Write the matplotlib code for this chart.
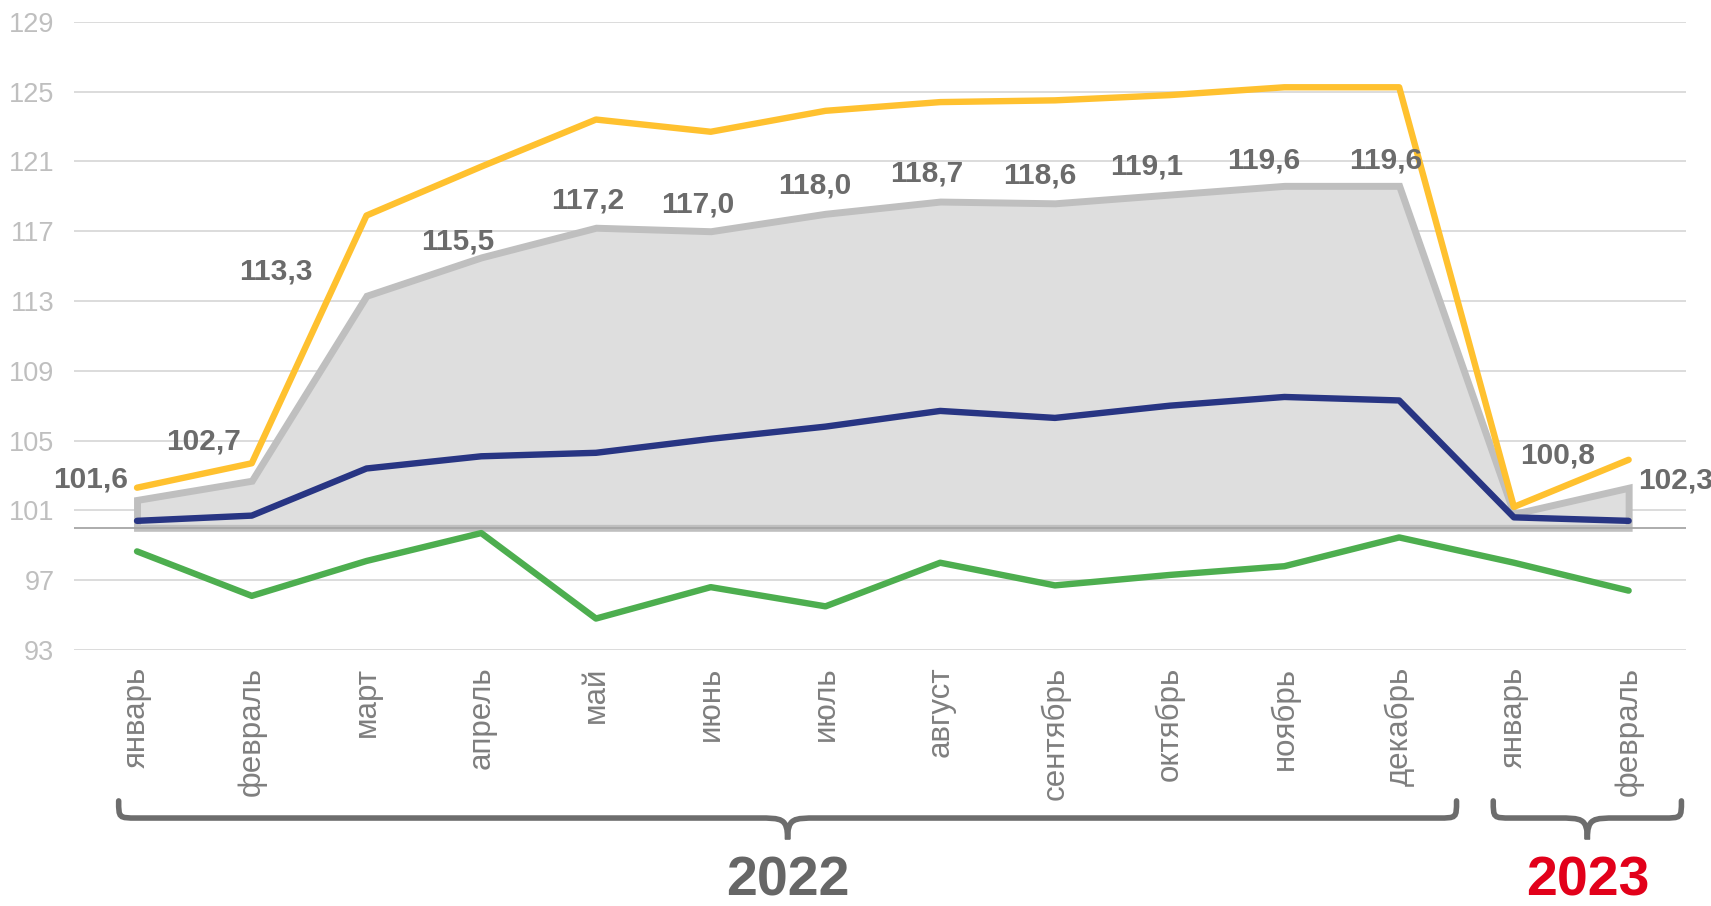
import matplotlib.pyplot as plt
import matplotlib.transforms as mtransforms
from matplotlib.path import Path
from matplotlib.patches import PathPatch

plt.rcParams['font.family'] = ['Liberation Sans', 'DejaVu Sans']

# данные
months = ["январь", "февраль", "март", "апрель", "май", "июнь", "июль", "август",
          "сентябрь", "октябрь", "ноябрь", "декабрь", "январь", "февраль"]
gray_vals = [101.6, 102.7, 113.3, 115.5, 117.2, 117.0, 118.0, 118.7, 118.6, 119.1, 119.6, 119.6, 100.8, 102.3]
yellow_vals = [102.3, 103.7, 117.9, 120.7, 123.4, 122.7, 123.9, 124.4, 124.5, 124.8, 125.25, 125.25, 101.2, 103.9]
navy_vals = [100.4, 100.7, 103.4, 104.1, 104.3, 105.1, 105.8, 106.7, 106.3, 107.0, 107.5, 107.3, 100.6, 100.4]
green_vals = [98.65, 96.1, 98.1, 99.7, 94.8, 96.6, 95.5, 98.0, 96.7, 97.3, 97.8, 99.45, 98.0, 96.4]
years = ["2022", "2023"]
year_groups = [(0, 11), (12, 13)]
base = 100
yticks = list(range(93, 130, 4))

# смещения подписей (пиксели)
label_offsets = [(-46, 20), (-48, 39), (-91, 24), (-23, 16), (-8, 27), (-13, 27), (-11, 28),
                 (-13, 28), (-15, 28), (-23, 28), (-21, 25), (-13, 25), (44, 58), (47, 7)]

x = list(range(len(months)))

fig = plt.figure(figsize=(17.11, 9.06), dpi=100)
ax = fig.add_axes([0.0432, 0.2826, 0.9422, 0.6933])

ax.fill_between(x, base, gray_vals, facecolor='#DEDEDE', edgecolor='#BFBFBF', linewidth=5,
                joinstyle='miter', zorder=2)
ax.axhline(base, color='#A6A6A6', lw=1.3, zorder=2.5)
ax.plot(x, navy_vals, color='#283583', lw=4.6, zorder=3, solid_capstyle='round')
ax.plot(x, green_vals, color='#4DAE4F', lw=4.6, zorder=3, solid_capstyle='round')
ax.plot(x, yellow_vals, color='#FFC12F', lw=4.6, zorder=3, solid_capstyle='round')

for i, v in enumerate(gray_vals):
    ax.annotate(f"{v:.1f}".replace('.', ','), (i, v), xytext=label_offsets[i],
                textcoords='offset pixels', ha='center', va='center',
                fontsize=21.5, fontweight='bold', color='#6B6B6B', zorder=5,
                annotation_clip=False)

ax.set_ylim(93, 129)
ax.set_xlim(-0.55, 13.5)
ax.set_yticks(yticks)
ax.set_xticks(x)
ax.set_xticklabels(months, rotation=90, fontsize=22.5, color='#7F7F7F')
ax.tick_params(axis='y', labelsize=19.5, labelcolor='#BFBFBF', length=0, pad=14)
ax.tick_params(axis='x', length=0, pad=12)
ax.grid(axis='y', color='#D9D9D9', lw=1.3)
ax.set_axisbelow(True)
for s in ax.spines.values():
    s.set_visible(False)

# фигурные скобки под подписями месяцев
trans = mtransforms.blended_transform_factory(ax.transData, fig.transFigure)
y_top, y_line, y_tip = 0.1160, 0.0971, 0.0735
r, r2 = 0.16, 0.26
for (i0, i1), yr in zip(year_groups, years):
    x0, x1 = i0 - 0.16, i1 + 0.5
    if i0 == 12:
        x0, x1 = i0 - 0.18, i1 + 0.46
    xm = (x0 + x1) / 2
    verts = [(x0, y_top), (x0, y_line), (x0, y_line), (x0 + r, y_line),
             (xm - r2, y_line),
             (xm - 0.05, y_line), (xm, y_line), (xm, y_tip),
             (xm, y_line), (xm + 0.05, y_line), (xm + r2, y_line),
             (x1 - r, y_line),
             (x1, y_line), (x1, y_line), (x1, y_top)]
    codes = [Path.MOVETO, Path.CURVE4, Path.CURVE4, Path.CURVE4,
             Path.LINETO,
             Path.CURVE4, Path.CURVE4, Path.CURVE4,
             Path.CURVE4, Path.CURVE4, Path.CURVE4,
             Path.LINETO,
             Path.CURVE4, Path.CURVE4, Path.CURVE4]
    ax.add_patch(PathPatch(Path(verts, codes), fill=False, edgecolor='#6D6D6D', lw=4,
                           transform=trans, clip_on=False, capstyle='round'))
    ax.text(xm, 0.012, yr, transform=trans, ha='center', va='baseline', fontsize=40,
            fontweight='bold', color='#666666' if yr == "2022" else '#E2001A')

plt.savefig("out.png", dpi=100)
